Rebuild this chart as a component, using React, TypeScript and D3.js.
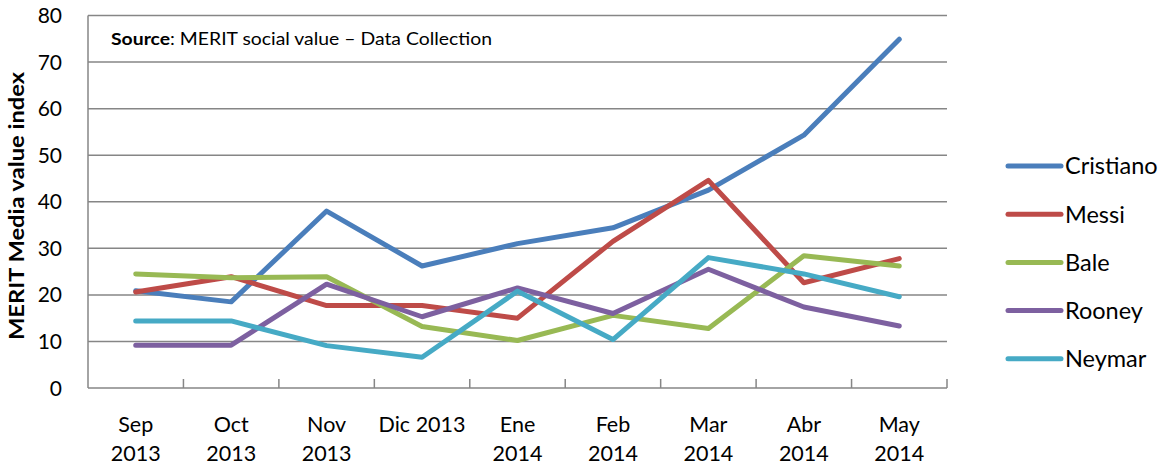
import { useRef, useEffect } from 'react';
import * as d3 from 'd3';

const months = ['Sep 2013', 'Oct 2013', 'Nov 2013', 'Dic 2013', 'Ene 2014', 'Feb 2014', 'Mar 2014', 'Abr 2014', 'May 2014'];
const monthLines = [['Sep', '2013'], ['Oct', '2013'], ['Nov', '2013'], ['Dic 2013'], ['Ene', '2014'], ['Feb', '2014'], ['Mar', '2014'], ['Abr', '2014'], ['May', '2014']];

const cristiano = [20.9, 18.5, 38.0, 26.2, 31.0, 34.4, 42.5, 54.3, 74.9];
const messi = [20.6, 23.9, 17.7, 17.7, 15.0, 31.5, 44.6, 22.6, 27.8];
const bale = [24.5, 23.7, 23.9, 13.2, 10.2, 15.6, 12.8, 28.4, 26.2];
const rooney = [9.2, 9.2, 22.3, 15.3, 21.5, 16.0, 25.5, 17.4, 13.3];
const neymar = [14.4, 14.4, 9.1, 6.6, 20.8, 10.4, 28.0, 24.5, 19.6];

const seriesNames = ['Cristiano', 'Messi', 'Bale', 'Rooney', 'Neymar'];
const seriesValues = [cristiano, messi, bale, rooney, neymar];
const seriesColors = ['#4a7ebb', '#be4b48', '#98b954', '#7d60a0', '#46aac5'];
const yTicks = [0, 10, 20, 30, 40, 50, 60, 70, 80];

const FONT = 'Lato, "Open Sans", sans-serif';

export default function App() {
  const svgRef = useRef<SVGSVGElement>(null);

  useEffect(() => {
    if (!svgRef.current) return;
    const svg = d3.select(svgRef.current);
    svg.selectAll('*').remove();

    const left = 88;
    const right = 947;
    const top = 15.5;
    const bottom = 388;

    const x = d3.scaleBand<string>().domain(months).range([left, right]);
    const y = d3.scaleLinear().domain([0, 80]).range([bottom, top]);

    const g = svg.append('g');

    // gridlines
    g.selectAll('.grid')
      .data(yTicks.filter((d) => d > 0))
      .join('line')
      .attr('x1', left)
      .attr('x2', right)
      .attr('y1', (d) => y(d))
      .attr('y2', (d) => y(d))
      .attr('stroke', '#868686')
      .attr('stroke-width', 1.5);

    // axis lines
    g.append('line').attr('x1', left).attr('x2', left).attr('y1', top).attr('y2', bottom).attr('stroke', '#868686').attr('stroke-width', 1.5);
    g.append('line').attr('x1', left).attr('x2', right).attr('y1', bottom).attr('y2', bottom).attr('stroke', '#868686').attr('stroke-width', 1.5);

    // inside tick marks on the x axis
    const tickXs = months.map((m) => x(m)!).concat([right]);
    g.selectAll('.xtick')
      .data(tickXs.slice(1))
      .join('line')
      .attr('x1', (d) => d)
      .attr('x2', (d) => d)
      .attr('y1', bottom - 9)
      .attr('y2', bottom)
      .attr('stroke', '#868686')
      .attr('stroke-width', 1.5);

    // y tick labels
    g.selectAll('.ylab')
      .data(yTicks)
      .join('text')
      .attr('x', 62)
      .attr('y', (d) => y(d))
      .attr('dy', '0.36em')
      .attr('text-anchor', 'end')
      .style('font-family', FONT)
      .style('font-size', '21px')
      .attr('fill', '#000')
      .text((d) => d);

    // x labels
    months.forEach((m, i) => {
      const cx = x(m)! + x.bandwidth() / 2;
      const t = g.append('text').attr('text-anchor', 'middle').style('font-family', FONT).style('font-size', '21.5px').attr('fill', '#000');
      monthLines[i].forEach((line, j) => {
        t.append('tspan').attr('x', cx).attr('y', 432 + j * 29).text(line);
      });
    });

    // y axis title
    g.append('text')
      .attr('transform', 'translate(24,206) rotate(-90)')
      .attr('text-anchor', 'middle')
      .attr('textLength', 268)
      .attr('lengthAdjust', 'spacingAndGlyphs')
      .style('font-family', FONT)
      .style('font-size', '21px')
      .style('font-weight', 'bold')
      .attr('fill', '#000')
      .text('MERIT Media value index');

    // source note
    const src = g
      .append('text')
      .attr('x', 111)
      .attr('y', 45)
      .attr('textLength', 381)
      .attr('lengthAdjust', 'spacingAndGlyphs')
      .style('font-family', FONT)
      .style('font-size', '17.5px')
      .attr('fill', '#000');
    src.append('tspan').style('font-weight', 'bold').text('Source');
    src.append('tspan').text(': MERIT social value \u2013 Data Collection');

    // series lines
    const line = d3
      .line<number>()
      .x((_, i) => x(months[i])! + x.bandwidth() / 2)
      .y((d) => y(d));

    seriesValues.forEach((vals, i) => {
      g.append('path')
        .attr('d', line(vals))
        .attr('fill', 'none')
        .attr('stroke', seriesColors[i])
        .attr('stroke-width', 5)
        .attr('stroke-linecap', 'round')
        .attr('stroke-linejoin', 'round');
    });

    // legend
    const legend = g.append('g');
    seriesNames.forEach((name, i) => {
      const ly = 166 + i * 48.2;
      legend.append('line').attr('x1', 1008).attr('x2', 1061).attr('y1', ly).attr('y2', ly).attr('stroke', seriesColors[i]).attr('stroke-width', 5).attr('stroke-linecap', 'round');
      legend
        .append('text')
        .attr('x', 1065)
        .attr('y', ly)
        .attr('dy', '0.36em')
        .style('font-family', FONT)
        .style('font-size', '23.5px')
        .attr('fill', '#000')
        .text(name);
    });
  }, []);

  return (
    <svg ref={svgRef} width={1161} height={466} style={{ position: 'absolute', left: 0, top: 0, background: '#fff' }} />
  );
}
